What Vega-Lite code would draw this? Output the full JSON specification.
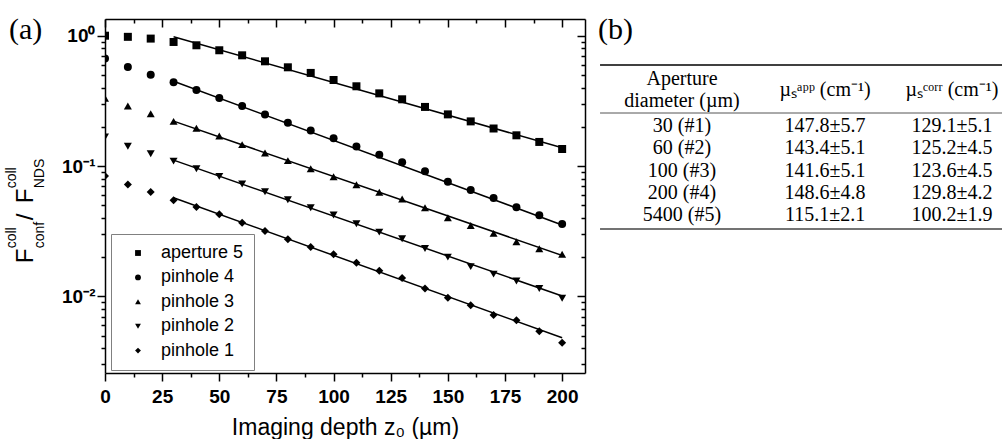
{
  "$schema": "https://vega.github.io/schema/vega-lite/v6.json",
  "padding": {"left": 4, "top": 14, "right": 0, "bottom": 0},
  "background": "white",
  "spacing": 0,
  "config": {"view": {"stroke": null}, "axis": {"grid": false}, "font": "Liberation Sans"},
  "datasets": {
    "pts": [
      {"s": "aperture 5", "z": 0, "f": 1.0}, {"s": "aperture 5", "z": 10, "f": 0.98}, {"s": "aperture 5", "z": 20, "f": 0.95}, {"s": "aperture 5", "z": 30, "f": 0.895}, {"s": "aperture 5", "z": 40, "f": 0.844}, {"s": "aperture 5", "z": 50, "f": 0.773}, {"s": "aperture 5", "z": 60, "f": 0.707}, {"s": "aperture 5", "z": 70, "f": 0.636}, {"s": "aperture 5", "z": 80, "f": 0.572}, {"s": "aperture 5", "z": 90, "f": 0.518}, {"s": "aperture 5", "z": 100, "f": 0.457}, {"s": "aperture 5", "z": 110, "f": 0.409}, {"s": "aperture 5", "z": 120, "f": 0.361}, {"s": "aperture 5", "z": 130, "f": 0.325}, {"s": "aperture 5", "z": 140, "f": 0.284}, {"s": "aperture 5", "z": 150, "f": 0.249}, {"s": "aperture 5", "z": 160, "f": 0.22}, {"s": "aperture 5", "z": 170, "f": 0.194}, {"s": "aperture 5", "z": 180, "f": 0.172}, {"s": "aperture 5", "z": 190, "f": 0.153}, {"s": "aperture 5", "z": 200, "f": 0.135},
      {"s": "pinhole 4", "z": 0, "f": 0.667}, {"s": "pinhole 4", "z": 10, "f": 0.575}, {"s": "pinhole 4", "z": 20, "f": 0.502}, {"s": "pinhole 4", "z": 30, "f": 0.439}, {"s": "pinhole 4", "z": 40, "f": 0.383}, {"s": "pinhole 4", "z": 50, "f": 0.333}, {"s": "pinhole 4", "z": 60, "f": 0.289}, {"s": "pinhole 4", "z": 70, "f": 0.248}, {"s": "pinhole 4", "z": 80, "f": 0.215}, {"s": "pinhole 4", "z": 90, "f": 0.187}, {"s": "pinhole 4", "z": 100, "f": 0.163}, {"s": "pinhole 4", "z": 110, "f": 0.141}, {"s": "pinhole 4", "z": 120, "f": 0.122}, {"s": "pinhole 4", "z": 130, "f": 0.107}, {"s": "pinhole 4", "z": 140, "f": 0.091}, {"s": "pinhole 4", "z": 150, "f": 0.0758}, {"s": "pinhole 4", "z": 160, "f": 0.0655}, {"s": "pinhole 4", "z": 170, "f": 0.0568}, {"s": "pinhole 4", "z": 180, "f": 0.0482}, {"s": "pinhole 4", "z": 190, "f": 0.0418}, {"s": "pinhole 4", "z": 200, "f": 0.0359},
      {"s": "pinhole 3", "z": 0, "f": 0.331}, {"s": "pinhole 3", "z": 10, "f": 0.289}, {"s": "pinhole 3", "z": 20, "f": 0.252}, {"s": "pinhole 3", "z": 30, "f": 0.22}, {"s": "pinhole 3", "z": 40, "f": 0.195}, {"s": "pinhole 3", "z": 50, "f": 0.17}, {"s": "pinhole 3", "z": 60, "f": 0.146}, {"s": "pinhole 3", "z": 70, "f": 0.126}, {"s": "pinhole 3", "z": 80, "f": 0.11}, {"s": "pinhole 3", "z": 90, "f": 0.0953}, {"s": "pinhole 3", "z": 100, "f": 0.0828}, {"s": "pinhole 3", "z": 110, "f": 0.0718}, {"s": "pinhole 3", "z": 120, "f": 0.0628}, {"s": "pinhole 3", "z": 130, "f": 0.0558}, {"s": "pinhole 3", "z": 140, "f": 0.0479}, {"s": "pinhole 3", "z": 150, "f": 0.0401}, {"s": "pinhole 3", "z": 160, "f": 0.035}, {"s": "pinhole 3", "z": 170, "f": 0.0304}, {"s": "pinhole 3", "z": 180, "f": 0.0262}, {"s": "pinhole 3", "z": 190, "f": 0.0232}, {"s": "pinhole 3", "z": 200, "f": 0.021},
      {"s": "pinhole 2", "z": 0, "f": 0.167}, {"s": "pinhole 2", "z": 10, "f": 0.142}, {"s": "pinhole 2", "z": 20, "f": 0.124}, {"s": "pinhole 2", "z": 30, "f": 0.109}, {"s": "pinhole 2", "z": 40, "f": 0.0953}, {"s": "pinhole 2", "z": 50, "f": 0.0833}, {"s": "pinhole 2", "z": 60, "f": 0.0728}, {"s": "pinhole 2", "z": 70, "f": 0.0635}, {"s": "pinhole 2", "z": 80, "f": 0.0551}, {"s": "pinhole 2", "z": 90, "f": 0.0479}, {"s": "pinhole 2", "z": 100, "f": 0.0421}, {"s": "pinhole 2", "z": 110, "f": 0.0361}, {"s": "pinhole 2", "z": 120, "f": 0.0311}, {"s": "pinhole 2", "z": 130, "f": 0.0277}, {"s": "pinhole 2", "z": 140, "f": 0.0233}, {"s": "pinhole 2", "z": 150, "f": 0.02}, {"s": "pinhole 2", "z": 160, "f": 0.0169}, {"s": "pinhole 2", "z": 170, "f": 0.0148}, {"s": "pinhole 2", "z": 180, "f": 0.0131}, {"s": "pinhole 2", "z": 190, "f": 0.0115}, {"s": "pinhole 2", "z": 200, "f": 0.00966},
      {"s": "pinhole 1", "z": 0, "f": 0.0838}, {"s": "pinhole 1", "z": 10, "f": 0.072}, {"s": "pinhole 1", "z": 20, "f": 0.0631}, {"s": "pinhole 1", "z": 30, "f": 0.0545}, {"s": "pinhole 1", "z": 40, "f": 0.0484}, {"s": "pinhole 1", "z": 50, "f": 0.0426}, {"s": "pinhole 1", "z": 60, "f": 0.0367}, {"s": "pinhole 1", "z": 70, "f": 0.0317}, {"s": "pinhole 1", "z": 80, "f": 0.0274}, {"s": "pinhole 1", "z": 90, "f": 0.0239}, {"s": "pinhole 1", "z": 100, "f": 0.021}, {"s": "pinhole 1", "z": 110, "f": 0.0181}, {"s": "pinhole 1", "z": 120, "f": 0.0157}, {"s": "pinhole 1", "z": 130, "f": 0.0138}, {"s": "pinhole 1", "z": 140, "f": 0.0115}, {"s": "pinhole 1", "z": 150, "f": 0.00975}, {"s": "pinhole 1", "z": 160, "f": 0.00853}, {"s": "pinhole 1", "z": 170, "f": 0.00718}, {"s": "pinhole 1", "z": 180, "f": 0.00654}, {"s": "pinhole 1", "z": 190, "f": 0.00539}, {"s": "pinhole 1", "z": 200, "f": 0.00441}
    ],
    "fits": [
      {"s": "aperture 5", "z": 30, "f": 0.982}, {"s": "aperture 5", "z": 200, "f": 0.138},
      {"s": "pinhole 4", "z": 30, "f": 0.447}, {"s": "pinhole 4", "z": 200, "f": 0.0353},
      {"s": "pinhole 3", "z": 30, "f": 0.221}, {"s": "pinhole 3", "z": 200, "f": 0.0206},
      {"s": "pinhole 2", "z": 30, "f": 0.111}, {"s": "pinhole 2", "z": 200, "f": 0.01005},
      {"s": "pinhole 1", "z": 30, "f": 0.0571}, {"s": "pinhole 1", "z": 200, "f": 0.00481}
    ],
    "table": [
      {"row": 1, "diameter": "30 (#1)", "app": "147.8±5.7", "corr": "129.1±5.1"},
      {"row": 2, "diameter": "60 (#2)", "app": "143.4±5.1", "corr": "125.2±4.5"},
      {"row": 3, "diameter": "100 (#3)", "app": "141.6±5.1", "corr": "123.6±4.5"},
      {"row": 4, "diameter": "200 (#4)", "app": "148.6±4.8", "corr": "129.8±4.2"},
      {"row": 5, "diameter": "5400 (#5)", "app": "115.1±2.1", "corr": "100.2±1.9"}
    ]
  },
  "hconcat": [
    {
      "width": 480,
      "height": 354,
      "layer": [
        {
          "data": {"name": "pts"},
          "mark": {"type": "point", "filled": true, "clip": true, "size": 64, "color": "black", "opacity": 1},
          "encoding": {
            "x": {"field": "z", "type": "quantitative", "scale": {"domain": [0, 210], "nice": false, "zero": false},
              "axis": {"orient": "bottom", "values": [0, 12.5, 25, 37.5, 50, 62.5, 75, 87.5, 100, 112.5, 125, 137.5, 150, 162.5, 175, 187.5, 200],
                "labelExpr": "datum.value % 25 == 0 ? format(datum.value, 'd') : ''",
                "labelFont": "Liberation Sans", "labelFontWeight": "bold", "labelFontSize": 19, "labelColor": "black", "labelPadding": 6,
                "labelOverlap": false, "labelFlush": false,
                "tickColor": "black", "tickWidth": 1.5,
                "tickSize": {"condition": {"test": "datum.value % 25 == 0", "value": 8}, "value": 4},
                "domainColor": "black", "domainWidth": 1.5,
                "title": "Imaging depth z₀ (µm)", "titleFont": "Liberation Sans", "titleFontSize": 23, "titleFontWeight": "normal", "titleColor": "black", "titlePadding": 10}},
            "y": {"field": "f", "type": "quantitative", "scale": {"type": "log", "domain": [0.00258, 1.343], "nice": false},
              "axis": {"orient": "left", "values": [0.003, 0.004, 0.005, 0.006, 0.007, 0.008, 0.009, 0.01, 0.02, 0.03, 0.04, 0.05, 0.06, 0.07, 0.08, 0.09, 0.1, 0.2, 0.3, 0.4, 0.5, 0.6, 0.7, 0.8, 0.9, 1],
                "labelExpr": "datum.value == 1 ? '10⁰' : datum.value == 0.1 ? '10⁻¹' : datum.value == 0.01 ? '10⁻²' : ''",
                "labelFont": "Liberation Sans", "labelFontWeight": "bold", "labelFontSize": 19, "labelColor": "black", "labelPadding": 2,
                "labelOverlap": false, "labelFlush": false,
                "tickColor": "black", "tickWidth": 1.5,
                "tickSize": {"condition": {"test": "datum.value == 1 || datum.value == 0.1 || datum.value == 0.01", "value": 8}, "value": 4},
                "domainColor": "black", "domainWidth": 1.5, "title": null}},
            "shape": {"field": "s", "type": "nominal",
              "scale": {"domain": ["aperture 5", "pinhole 4", "pinhole 3", "pinhole 2", "pinhole 1"], "range": ["square", "circle", "triangle-up", "triangle-down", "diamond"]},
              "legend": {"orient": "none", "legendX": 6, "legendY": 215, "title": null, "strokeColor": "#808080", "fillColor": "white", "padding": 10,
                "labelFont": "Liberation Sans", "labelFontSize": 18, "labelColor": "black", "symbolSize": 34, "symbolFillColor": "black", "symbolStrokeColor": "black",
                "rowPadding": 6.4, "symbolOffset": 8, "labelOffset": 14}}
          }
        },
        {
          "data": {"name": "fits"},
          "mark": {"type": "line", "color": "black", "strokeWidth": 1.5, "clip": true},
          "encoding": {
            "x": {"field": "z", "type": "quantitative", "scale": {"domain": [0, 210], "nice": false, "zero": false},
              "axis": {"orient": "top", "values": [0, 12.5, 25, 37.5, 50, 62.5, 75, 87.5, 100, 112.5, 125, 137.5, 150, 162.5, 175, 187.5, 200], "labels": false, "title": null,
                "tickColor": "black", "tickWidth": 1.5,
                "tickSize": {"condition": {"test": "datum.value % 25 == 0", "value": -8}, "value": -4},
                "domainColor": "black", "domainWidth": 1.5}},
            "y": {"field": "f", "type": "quantitative", "scale": {"type": "log", "domain": [0.00258, 1.343], "nice": false},
              "axis": {"orient": "right", "values": [0.003, 0.004, 0.005, 0.006, 0.007, 0.008, 0.009, 0.01, 0.02, 0.03, 0.04, 0.05, 0.06, 0.07, 0.08, 0.09, 0.1, 0.2, 0.3, 0.4, 0.5, 0.6, 0.7, 0.8, 0.9, 1], "labels": false, "title": null,
                "tickColor": "black", "tickWidth": 1.5,
                "tickSize": {"condition": {"test": "datum.value == 1 || datum.value == 0.1 || datum.value == 0.01", "value": -8}, "value": -4},
                "domainColor": "black", "domainWidth": 1.5}},
            "detail": {"field": "s", "type": "nominal"}
          }
        },
        {
          "data": {"values": [{}]},
          "mark": {"type": "text", "text": "(a)", "font": "Liberation Serif", "fontSize": 30, "align": "left", "baseline": "alphabetic", "dx": -96, "dy": 3, "color": "black"},
          "encoding": {"x": {"datum": 0, "type": "quantitative", "axis": null}, "y": {"datum": 1, "type": "quantitative", "axis": null}}
        },
        {
          "data": {"values": [{}]},
          "mark": {"type": "text", "text": "F", "font": "Liberation Sans", "fontSize": 24, "angle": 270, "align": "left", "baseline": "alphabetic", "dx": 33, "dy": -72, "color": "black"},
          "encoding": {"x": {"datum": 0, "type": "quantitative", "axis": null}, "y": {"datum": 0.01, "type": "quantitative", "axis": null}}
        },
        {
          "data": {"values": [{}]},
          "mark": {"type": "text", "text": "coll", "font": "Liberation Sans", "fontSize": 14, "angle": 270, "align": "left", "baseline": "alphabetic", "dx": 48, "dy": -89, "color": "black"},
          "encoding": {"x": {"datum": 0, "type": "quantitative", "axis": null}, "y": {"datum": 0.01, "type": "quantitative", "axis": null}}
        },
        {
          "data": {"values": [{}]},
          "mark": {"type": "text", "text": "conf", "font": "Liberation Sans", "fontSize": 14, "angle": 270, "align": "left", "baseline": "alphabetic", "dx": 48, "dy": -61, "color": "black"},
          "encoding": {"x": {"datum": 0, "type": "quantitative", "axis": null}, "y": {"datum": 0.01, "type": "quantitative", "axis": null}}
        },
        {
          "data": {"values": [{}]},
          "mark": {"type": "text", "text": "/", "font": "Liberation Sans", "fontSize": 24, "angle": 270, "align": "left", "baseline": "alphabetic", "dx": 76, "dy": -72, "color": "black"},
          "encoding": {"x": {"datum": 0, "type": "quantitative", "axis": null}, "y": {"datum": 0.01, "type": "quantitative", "axis": null}}
        },
        {
          "data": {"values": [{}]},
          "mark": {"type": "text", "text": "F", "font": "Liberation Sans", "fontSize": 24, "angle": 270, "align": "left", "baseline": "alphabetic", "dx": 93, "dy": -72, "color": "black"},
          "encoding": {"x": {"datum": 0, "type": "quantitative", "axis": null}, "y": {"datum": 0.01, "type": "quantitative", "axis": null}}
        },
        {
          "data": {"values": [{}]},
          "mark": {"type": "text", "text": "coll", "font": "Liberation Sans", "fontSize": 14, "angle": 270, "align": "left", "baseline": "alphabetic", "dx": 108, "dy": -89, "color": "black"},
          "encoding": {"x": {"datum": 0, "type": "quantitative", "axis": null}, "y": {"datum": 0.01, "type": "quantitative", "axis": null}}
        },
        {
          "data": {"values": [{}]},
          "mark": {"type": "text", "text": "NDS", "font": "Liberation Sans", "fontSize": 14, "angle": 270, "align": "left", "baseline": "alphabetic", "dx": 108, "dy": -61, "color": "black"},
          "encoding": {"x": {"datum": 0, "type": "quantitative", "axis": null}, "y": {"datum": 0.01, "type": "quantitative", "axis": null}}
        }
      ]
    },
    {
      "width": 418,
      "height": 354,
      "layer": [
        {
          "data": {"values": [{}]},
          "mark": {"type": "rule", "color": "black", "strokeWidth": 1.5},
          "encoding": {
            "x": {"datum": -0.607, "type": "quantitative", "scale": {"domain": [-0.711, 2.385], "nice": false, "zero": false}, "axis": null},
            "x2": {"datum": 2.385},
            "y": {"datum": -1.742, "type": "quantitative", "scale": {"domain": [-3.809, 12.101], "nice": false, "zero": false, "reverse": true}, "axis": null}
          }
        },
        {
          "data": {"values": [{}]},
          "mark": {"type": "rule", "color": "#555555", "strokeWidth": 1},
          "encoding": {"x": {"datum": -0.607, "type": "quantitative", "axis": null}, "x2": {"datum": 2.385}, "y": {"datum": 0.416, "type": "quantitative", "axis": null}}
        },
        {
          "data": {"values": [{}]},
          "mark": {"type": "rule", "color": "#444444", "strokeWidth": 1.5},
          "encoding": {"x": {"datum": -0.607, "type": "quantitative", "axis": null}, "x2": {"datum": 2.385}, "y": {"datum": 5.629, "type": "quantitative", "axis": null}}
        },
        {
          "data": {"values": [{}]},
          "mark": {"type": "text", "text": "(b)", "font": "Liberation Serif", "fontSize": 30, "align": "left", "baseline": "alphabetic", "color": "black"},
          "encoding": {"x": {"datum": -0.622, "type": "quantitative", "axis": null}, "y": {"datum": -2.91, "type": "quantitative", "axis": null}}
        },
        {
          "data": {"values": [{}]},
          "mark": {"type": "text", "text": "Aperture", "font": "Liberation Serif", "fontSize": 20, "color": "black"},
          "encoding": {"x": {"datum": 0, "type": "quantitative", "axis": null}, "y": {"datum": -1.112, "type": "quantitative", "axis": null}}
        },
        {
          "data": {"values": [{}]},
          "mark": {"type": "text", "text": "diameter (µm)", "font": "Liberation Serif", "fontSize": 20, "color": "black"},
          "encoding": {"x": {"datum": 0, "type": "quantitative", "axis": null}, "y": {"datum": -0.124, "type": "quantitative", "axis": null}}
        },
        {
          "data": {"values": [{}]},
          "mark": {"type": "text", "text": "µₛᵃᵖᵖ (cm⁻¹)", "font": "Liberation Serif", "fontSize": 20, "color": "black", "dx": 8},
          "encoding": {"x": {"datum": 1, "type": "quantitative", "axis": null}, "y": {"datum": -0.618, "type": "quantitative", "axis": null}}
        },
        {
          "data": {"values": [{}]},
          "mark": {"type": "text", "text": "µₛᶜᵒʳʳ (cm⁻¹)", "font": "Liberation Serif", "fontSize": 20, "color": "black"},
          "encoding": {"x": {"datum": 2, "type": "quantitative", "axis": null}, "y": {"datum": -0.618, "type": "quantitative", "axis": null}}
        },
        {
          "data": {"name": "table"},
          "mark": {"type": "text", "font": "Liberation Serif", "fontSize": 20, "color": "black"},
          "encoding": {"x": {"datum": 0, "type": "quantitative", "axis": null}, "y": {"field": "row", "type": "quantitative", "axis": null}, "text": {"field": "diameter"}}
        },
        {
          "data": {"name": "table"},
          "mark": {"type": "text", "font": "Liberation Serif", "fontSize": 20, "color": "black", "dx": 8},
          "encoding": {"x": {"datum": 1, "type": "quantitative", "axis": null}, "y": {"field": "row", "type": "quantitative", "axis": null}, "text": {"field": "app"}}
        },
        {
          "data": {"name": "table"},
          "mark": {"type": "text", "font": "Liberation Serif", "fontSize": 20, "color": "black"},
          "encoding": {"x": {"datum": 2, "type": "quantitative", "axis": null}, "y": {"field": "row", "type": "quantitative", "axis": null}, "text": {"field": "corr"}}
        }
      ]
    }
  ]
}
